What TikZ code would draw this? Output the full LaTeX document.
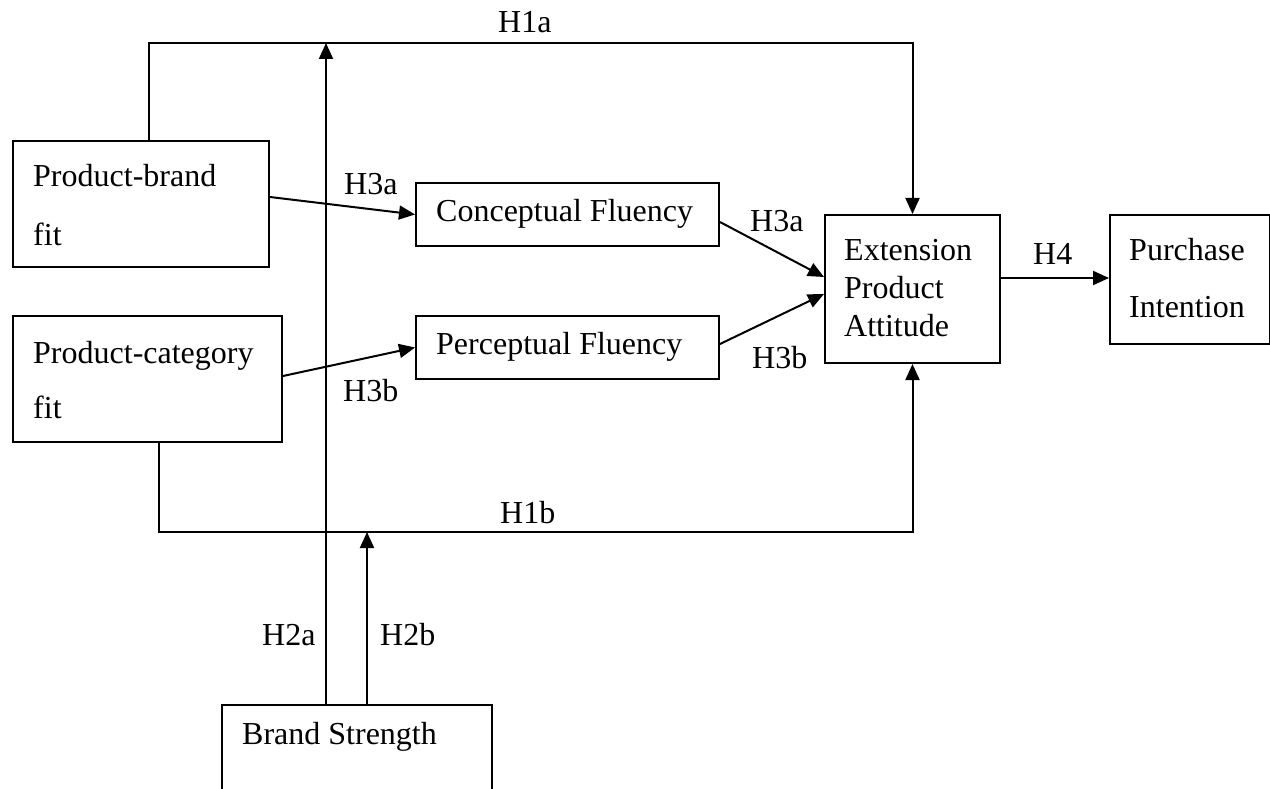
\documentclass[tikz,border=0pt]{standalone}
\usepackage{fontspec}
\setmainfont{Liberation Serif}
\usetikzlibrary{arrows.meta}
\begin{document}
\begin{tikzpicture}[x=1pt,y=-1pt,
  box/.style={draw,line width=2pt,inner sep=0pt,anchor=north west},
  txt/.style={inner sep=0pt,anchor=base west,font=\fontsize{32}{38}\selectfont},
  hyp/.style={inner sep=0pt,anchor=base west,font=\fontsize{32}{38}\selectfont},
  arr/.style={line width=2pt,-{Triangle[length=16pt,width=14pt]}}]
\useasboundingbox (0,0) rectangle (1270,789);
\clip (0,0) rectangle (1270,789);

% boxes
\node[box,minimum width=256pt,minimum height=126pt] (pb) at (12,140) {};
\node[box,minimum width=269pt,minimum height=126pt] (pc) at (12,315) {};
\node[box,minimum width=303pt,minimum height=63pt] (cf) at (415,182) {};
\node[box,minimum width=303pt,minimum height=63pt] (pf) at (415,315) {};
\node[box,minimum width=175pt,minimum height=148pt] (ext) at (824,214) {};
\node[box,minimum width=160pt,minimum height=129pt] (pi) at (1109,214) {};
\node[box,minimum width=270pt,minimum height=120pt] (bs) at (221,704) {};

% box texts
\node[txt] (pbt1) at (33,187) {Product-brand};
\node[txt] (pbt2) at (33,245) {fit};
\node[txt] (pct1) at (33,363) {Product-category};
\node[txt] (pct2) at (33,418) {fit};
\node[txt] (cft) at (436,222) {Conceptual Fluency};
\node[txt] (pft) at (436,354) {Perceptual Fluency};
\node[txt] (ext1) at (844,260) {Extension};
\node[txt] (ext2) at (844,298) {Product};
\node[txt] (ext3) at (844,336) {Attitude};
\node[txt] (pit1) at (1129,260) {Purchase};
\node[txt] (pit2) at (1129,317) {Intention};
\node[txt] (bst) at (242,744) {Brand Strength};

% routing levels
\coordinate (toprow) at (0,43);
\coordinate (botrow) at (0,532);

% direct paths from the fit measures to attitude
\draw[arr] ([xshift=8pt]pb.north) |- (toprow -| ext.north) -- (ext.north);
\draw[arr] ([xshift=11.5pt]pc.south) |- (botrow -| ext.south) -- (ext.south);

% moderation by brand strength
\coordinate (h2a) at ([xshift=-31pt]bs.north);
\coordinate (h2b) at ([xshift=10pt]bs.north);
\draw[arr] (h2a) -- (h2a |- toprow);
\draw[arr] (h2b) -- (h2b |- botrow);

% mediation through fluency
\draw[arr] ([yshift=7pt]pb.east) -- (cf.west);
\draw[arr] ([yshift=3pt]pc.east) -- (pf.west);
\draw[arr] ([yshift=-7.5pt]cf.east) -- ([yshift=12pt]ext.west);
\draw[arr] ([yshift=3.5pt]pf.east) -- ([yshift=-5pt]ext.west);

% attitude to intention
\draw[arr] ([yshift=11pt]ext.east) -- ([yshift=11pt]ext.east -| pi.west);

% hypothesis labels
\node[hyp] (lh1a) at (498,33) {H1a};
\node[hyp] (lh1b) at (500,523) {H1b};
\node[hyp] (lh2a) at (262,645) {H2a};
\node[hyp] (lh2b) at (380,645) {H2b};
\node[hyp] (lh3a1) at (344,195) {H3a};
\node[hyp] (lh3b1) at (343,401) {H3b};
\node[hyp] (lh3a2) at (750,231) {H3a};
\node[hyp] (lh3b2) at (752,368) {H3b};
\node[hyp] (lh4) at (1033,264) {H4};
\end{tikzpicture}
\end{document}
